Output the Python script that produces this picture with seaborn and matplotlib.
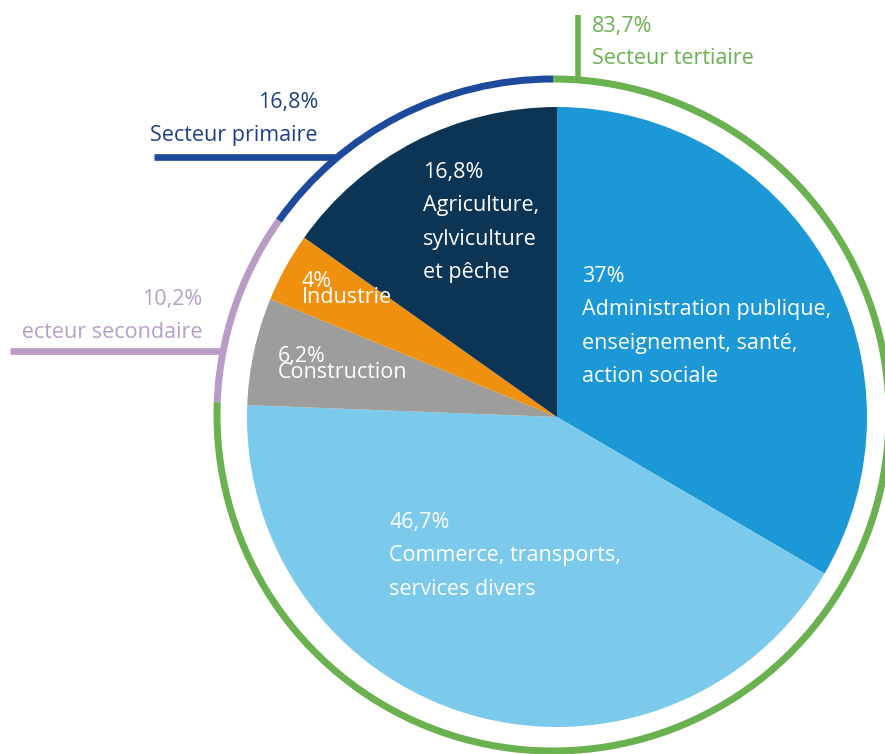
import numpy as np
import matplotlib
matplotlib.use("Agg")
import matplotlib.pyplot as plt
import seaborn as sns
from matplotlib.transforms import Bbox, TransformedBbox

# ---------------- data ----------------
slice_names = ["Administration publique,\nenseignement, santé,\naction sociale",
               "Commerce, transports,\nservices divers",
               "Construction",
               "Industrie",
               "Agriculture,\nsylviculture\net pêche"]
slice_values = [37, 46.7, 6.2, 4, 16.8]
slice_pct = ["37%", "46,7%", "6,2%", "4%", "16,8%"]

sector_names = ["Secteur tertiaire", "Secteur secondaire", "Secteur primaire"]
sector_values = [83.7, 10.2, 16.8]
sector_pct = ["83,7%", "10,2%", "16,8%"]

# ---------------- style ----------------
sns.set_theme(style="white")
plt.rcParams["font.family"] = ["Open Sans", "DejaVu Sans"]

slice_colors = sns.color_palette(["#1b98d5", "#7ccaeb", "#9d9d9c", "#f0900f", "#0c3454"])
ring_colors = sns.color_palette(["#6ab14f", "#b89cc3", "#1e4a9b"])
sector_text_colors = ["#6ab14f", "#b79fc6", "#213f82"]

W, H = 885, 754
FS = 15.5

fig = plt.figure(figsize=(W / 100, H / 100), dpi=100)
ax = fig.add_axes([0, 0, 1, 1])

def Y(y):
    return H - y

pie_c = (557, Y(417))
pie_r = 310
ring_c = (553, Y(415))
ring_r = 336      # middle of the stroke
ring_w = 7

ax.pie(slice_values, colors=slice_colors, startangle=90, counterclock=False,
       center=pie_c, radius=pie_r, frame=True,
       wedgeprops=dict(linewidth=0, antialiased=True))
ax.pie(sector_values, colors=ring_colors, startangle=90, counterclock=False,
       center=ring_c, radius=ring_r + ring_w / 2, frame=True,
       wedgeprops=dict(width=ring_w, linewidth=0))

ax.set_xlim(0, W)
ax.set_ylim(0, H)
ax.set_aspect("auto")
ax.axis("off")

# ---------------- labels ----------------
def block(x, y0, lines, dy, color="white", ha="left", clip=None):
    for k, line in enumerate(lines):
        t = ax.text(x, Y(y0 + k * dy), line, color=color, fontsize=FS,
                    ha=ha, va="baseline")
        if clip is not None:
            t.set_clip_box(TransformedBbox(clip, ax.transData))
            t.set_clip_on(True)

def tight_pair(x, y_last, pct, name):
    # percentage and name stacked closely, as one text object
    # (anchored on the baseline of the last line)
    ax.text(x, Y(y_last), pct + "\n" + name, color="white", fontsize=FS,
            ha="left", va="baseline", linespacing=0.67)

inner_pos = [(582, 282, 33.3), (389, 528, 33.5), (278, 360, 18), (302, 285, 18), (423, 178, 33.3)]
for (x, y0, dy), pct, name in zip(inner_pos, slice_pct, slice_names):
    if dy < 25:
        tight_pair(x, y0 + dy, pct, name)
    else:
        block(x, y0, [pct] + name.split("\n"), dy)

def ring_x_at(y_px, side=-1):
    dy = Y(y_px) - ring_c[1]
    return ring_c[0] + side * np.sqrt(ring_r ** 2 - dy ** 2)

# tertiaire : vertical tick at the top
tx = 577.5
ty_ring = ring_c[1] + np.sqrt(ring_r ** 2 - (tx - ring_c[0]) ** 2)
ax.plot([tx, tx], [Y(15), ty_ring], color=ring_colors[0], lw=4.0, solid_capstyle="butt")
block(592, 31.7, [sector_pct[0], sector_names[0]], 31.8, color=sector_text_colors[0])

# primaire
ly = 157.3
ax.plot([154, ring_x_at(ly)], [Y(ly), Y(ly)], color=ring_colors[2], lw=4.8, solid_capstyle="butt")
block(318, 108, [sector_pct[2], sector_names[2]], 33.5, color=sector_text_colors[2], ha="right")

# secondaire
ly = 350.7
ax.plot([10, ring_x_at(ly)], [Y(ly), Y(ly)], color=ring_colors[1], lw=4.8, solid_capstyle="butt")
block(202, 305, [sector_pct[1], sector_names[1]], 33.2, color=sector_text_colors[1], ha="right",
      clip=Bbox.from_extents(22, 0, W, H))

fig.savefig("out.png", dpi=100, facecolor="white")
